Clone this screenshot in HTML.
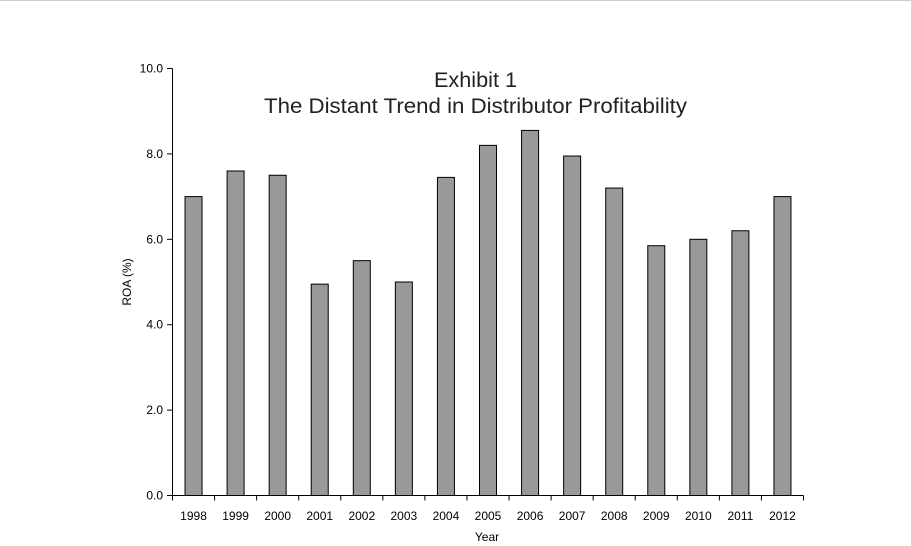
<!DOCTYPE html>
<html><head><style>body{margin:0;background:#fff}svg{display:block}</style></head><body>
<svg width="911" height="546" xmlns="http://www.w3.org/2000/svg" font-family="Liberation Sans, Arial, sans-serif">
<rect width="911" height="546" fill="#fff"/>
<line x1="0" y1="0.5" x2="911" y2="0.5" stroke="#ccc" stroke-width="1"/>
<g id="bars" fill="#999" stroke="#000" stroke-width="1"></g>
<line x1="172.5" y1="68.5" x2="172.5" y2="495.5" stroke="#000"/>
<line x1="172.5" y1="495.5" x2="803.5" y2="495.5" stroke="#000"/>
<g id="ax" stroke="#000"></g>
<g id="lab" font-size="12" fill="#000"></g>
<text x="434" y="87" font-size="21" textLength="83" lengthAdjust="spacingAndGlyphs" fill="#222">Exhibit 1</text>
<text x="264" y="113" font-size="21" textLength="423" lengthAdjust="spacingAndGlyphs" fill="#222">The Distant Trend in Distributor Profitability</text>
<text x="487" y="541" font-size="12" text-anchor="middle">Year</text>
<text transform="translate(131,282) rotate(-90)" font-size="12" text-anchor="middle">ROA (%)</text>
</svg>
<script>
const v=[7.0,7.6,7.5,4.95,5.5,5.0,7.45,8.2,8.55,7.95,7.2,5.85,6.0,6.2,7.0];
const ns="http://www.w3.org/2000/svg";
const b=document.getElementById('bars'),a=document.getElementById('ax'),l=document.getElementById('lab');
function el(p,t,at,txt){const e=document.createElementNS(ns,t);for(const k in at)e.setAttribute(k,at[k]);if(txt)e.textContent=txt;p.appendChild(e);}
const w=631/15;
v.forEach((d,i)=>{const cx=172.5+w*(i+0.5);const top=495.5-d*42.7;
el(b,'rect',{x:cx-8.5,y:top,width:17,height:495.5-top});
el(l,'text',{x:cx,y:520,'text-anchor':'middle'},String(1998+i));});
for(let i=0;i<=15;i++){const x=172.5+w*i;el(a,'line',{x1:x,y1:495.5,x2:x,y2:500.5});}
for(let i=0;i<=5;i++){const y=495.5-i*2*42.7;el(a,'line',{x1:167,y1:y,x2:172.5,y2:y});
el(l,'text',{x:163,y:y+4,'text-anchor':'end'},(i*2).toFixed(1));}
</script>
</body></html>
